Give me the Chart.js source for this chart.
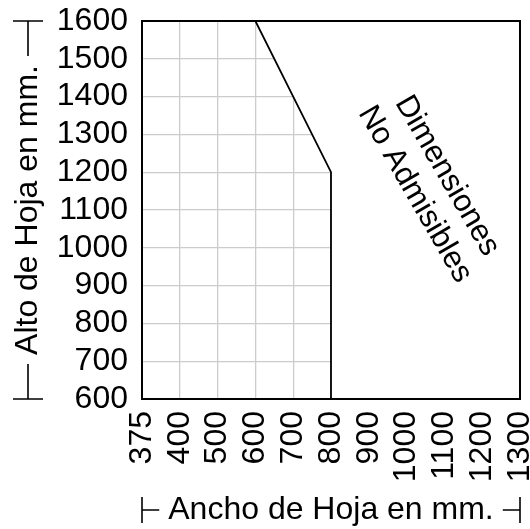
<!DOCTYPE html>
<html>
<head>
<meta charset="utf-8">
<script src="https://cdn.jsdelivr.net/npm/chart.js@4"></script>
<style>
  html, body { margin: 0; padding: 0; background: #fff; }
  #wrap { width: 530px; height: 529px; }
</style>
</head>
<body>
<div id="wrap"><canvas id="myChart" width="530" height="529"></canvas></div>
<script>
// Ancho (eje x) - categorias
const anchoLabels = ["375", "400", "500", "600", "700", "800", "900", "1000", "1100", "1200", "1300"];
// Limite de dimensiones admisibles
const limiteAncho = ["600", "700", "800", "800", "1300"];
const limiteAlto = [1600, 1400, 1200, 600, 600];
// Eje y
const altoMin = 600;
const altoMax = 1600;
const altoPaso = 100;

const tituloX = "Ancho de Hoja en mm.";
const tituloY = "Alto de Hoja en mm.";
const textoZona = ["Dimensiones", "No Admisibles"];

const FONT = "Liberation Sans, Arial, sans-serif";

// marco, titulos y texto de la zona no admisible
const extras = {
    id: "extras",
    afterDatasetsDraw(chart) {
        const ctx = chart.ctx;
        const a = chart.chartArea;
        ctx.save();
        ctx.strokeStyle = "#000";
        ctx.lineWidth = 2;
        ctx.strokeRect(a.left, a.top, a.right - a.left, a.bottom - a.top);

        // texto rotado
        const cx = 431, cy = 185, lh = 37;
        ctx.translate(cx, cy);
        ctx.rotate(60 * Math.PI / 180);
        ctx.fillStyle = "#000";
        ctx.font = "31px " + FONT;
        ctx.textAlign = "center";
        ctx.textBaseline = "middle";
        ctx.fillText(textoZona[0], 0, -lh / 2);
        ctx.fillText(textoZona[1], 0, lh / 2);
        ctx.restore();
    },
    afterDraw(chart) {
        const ctx = chart.ctx;
        const a = chart.chartArea;
        const gap = 9;
        ctx.save();
        ctx.fillStyle = "#000";
        ctx.strokeStyle = "#000";
        ctx.lineWidth = 1.6;
        ctx.font = "32px " + FONT;
        ctx.textAlign = "center";
        ctx.textBaseline = "middle";

        // titulo x
        const xc = (a.left + a.right) / 2, yx = 510;
        const wx = ctx.measureText(tituloX).width;
        ctx.fillText(tituloX, xc, yx);
        ctx.beginPath();
        ctx.moveTo(a.left, yx - 13); ctx.lineTo(a.left, yx + 13);
        ctx.moveTo(a.left, yx); ctx.lineTo(xc - wx / 2 - gap, yx);
        ctx.moveTo(a.right, yx - 13); ctx.lineTo(a.right, yx + 13);
        ctx.moveTo(a.right, yx); ctx.lineTo(xc + wx / 2 + gap, yx);
        ctx.stroke();

        // titulo y
        const xy = 28, yc = (a.top + a.bottom) / 2;
        const wy = ctx.measureText(tituloY).width;
        ctx.save();
        ctx.translate(xy, yc);
        ctx.rotate(-Math.PI / 2);
        ctx.fillText(tituloY, 0, 0);
        ctx.restore();
        ctx.beginPath();
        ctx.moveTo(xy - 15, a.top); ctx.lineTo(xy + 15, a.top);
        ctx.moveTo(xy, a.top); ctx.lineTo(xy, yc - wy / 2 - gap);
        ctx.moveTo(xy - 15, a.bottom); ctx.lineTo(xy + 15, a.bottom);
        ctx.moveTo(xy, a.bottom); ctx.lineTo(xy, yc + wy / 2 + gap);
        ctx.stroke();
        ctx.restore();
    }
};

const ctx = document.getElementById("myChart").getContext("2d");

new Chart(ctx, {
    type: "line",
    data: {
        labels: anchoLabels,
        datasets: [
            {
                label: "Limite",
                data: limiteAncho.map((x, i) => ({ x: x, y: limiteAlto[i] })),
                borderColor: "#000",
                borderWidth: 1.8,
                backgroundColor: "#fff",
                fill: "end",
                pointRadius: 0,
                tension: 0
            }
        ]
    },
    options: {
        responsive: false,
        animation: false,
        layout: { padding: { top: 0, right: 10, left: 0, bottom: 0 } },
        plugins: {
            legend: { display: false },
            tooltip: { enabled: false }
        },
        scales: {
            x: {
                type: "category",
                offset: false,
                grid: { color: "#cccccc", lineWidth: 1.3, drawTicks: false },
                border: { display: false },
                ticks: {
                    color: "#000",
                    font: { family: FONT, size: 32 },
                    maxRotation: 90,
                    minRotation: 90,
                    padding: 12,
                    autoSkip: false
                },
                afterFit(scale) {
                    scale.height = 130;
                    scale.paddingLeft = 0;
                    scale.paddingRight = 0;
                }
            },
            y: {
                min: altoMin,
                max: altoMax,
                grid: { color: "#cccccc", lineWidth: 1.3, drawTicks: false },
                border: { display: false },
                ticks: {
                    stepSize: altoPaso,
                    autoSkip: false,
                    color: "#000",
                    font: { family: FONT, size: 32 },
                    padding: 14,
                    callback: (v) => String(v)
                },
                afterFit(scale) {
                    scale.width = 142;
                    scale.paddingTop = 21;
                    scale.paddingBottom = 0;
                }
            }
        }
    },
    plugins: [extras]
});
</script>
</body>
</html>
